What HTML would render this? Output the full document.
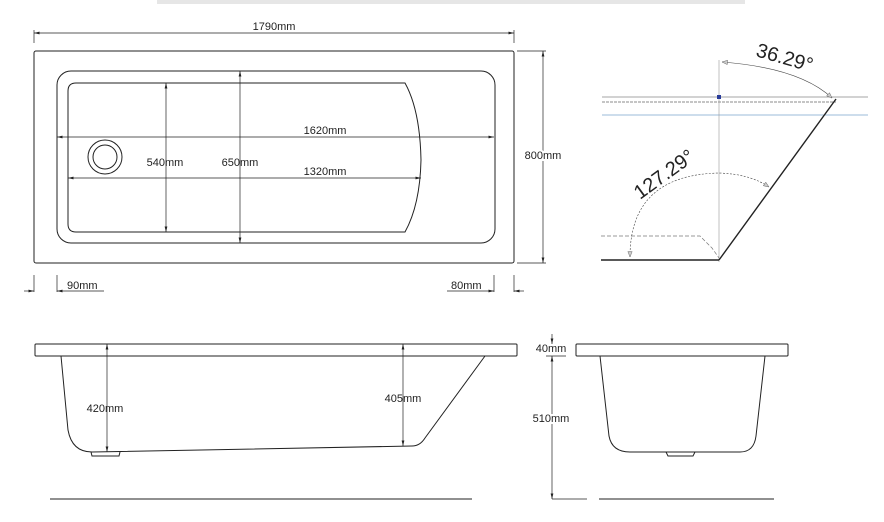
<!DOCTYPE html>
<html><head><meta charset="utf-8"><style>
html,body{margin:0;padding:0;background:#fff}
svg{display:block}
text{font-family:"Liberation Sans",sans-serif;font-size:11px;fill:#222}
</style></head><body>
<svg width="884" height="522" viewBox="0 0 884 522" xmlns="http://www.w3.org/2000/svg">
<defs>
<marker id="a" viewBox="0 0 10 10" refX="10" refY="5" markerWidth="8" markerHeight="8" orient="auto-start-reverse"><path d="M0,2.5 L10,5 L0,7.5 z" fill="#222"/></marker>
<marker id="g" viewBox="0 0 10 10" refX="10" refY="5" markerWidth="14" markerHeight="9" orient="auto-start-reverse"><path d="M0,1 L10,5 L0,9 z" fill="#ccc" stroke="#555" stroke-width="0.8"/></marker>
</defs>
<rect x="157" y="0" width="588" height="4" fill="#e6e6e6"/>
<g fill="none" stroke="#222" stroke-width="1">
<!-- top view -->
<rect x="34" y="51" width="480" height="212" rx="2"/>
<rect x="57" y="71" width="438" height="172" rx="14"/>
<path d="M76,83 L405,83 Q420,110 421,160 Q420,205 405,232 L76,232 Q68,232 68,224 L68,91 Q68,83 76,83 Z"/>
<circle cx="105" cy="157" r="17"/><circle cx="105" cy="157" r="12"/>
<line x1="34" y1="43" x2="34" y2="30" stroke-width="0.7"/><line x1="514" y1="43" x2="514" y2="30" stroke-width="0.7"/>
<line x1="34" y1="33" x2="514" y2="33" stroke-width="0.7" marker-start="url(#a)" marker-end="url(#a)"/>
<line x1="517" y1="51" x2="546" y2="51" stroke-width="0.7"/><line x1="517" y1="263" x2="546" y2="263" stroke-width="0.7"/>
<line x1="543" y1="51" x2="543" y2="263" stroke-width="0.7" marker-start="url(#a)" marker-end="url(#a)"/>
<line x1="57" y1="137" x2="494" y2="137" stroke-width="0.7" marker-start="url(#a)" marker-end="url(#a)"/>
<line x1="68" y1="178" x2="421" y2="178" stroke-width="0.7" marker-start="url(#a)" marker-end="url(#a)"/>
<line x1="166" y1="83" x2="166" y2="232" stroke-width="0.7" marker-start="url(#a)" marker-end="url(#a)"/>
<line x1="240" y1="71" x2="240" y2="243" stroke-width="0.7" marker-start="url(#a)" marker-end="url(#a)"/>
<line x1="34" y1="275" x2="34" y2="292" stroke-width="0.7"/><line x1="57" y1="275" x2="57" y2="292" stroke-width="0.7"/>
<line x1="24" y1="291" x2="34" y2="291" stroke-width="0.7" marker-end="url(#a)"/>
<line x1="104" y1="291" x2="57" y2="291" stroke-width="0.7" marker-end="url(#a)"/>
<line x1="494" y1="275" x2="494" y2="292" stroke-width="0.7"/><line x1="514" y1="275" x2="514" y2="292" stroke-width="0.7"/>
<line x1="447" y1="291" x2="494" y2="291" stroke-width="0.7" marker-end="url(#a)"/>
<line x1="524" y1="291" x2="514" y2="291" stroke-width="0.7" marker-end="url(#a)"/>
<!-- angle view -->
<line x1="602" y1="97" x2="868" y2="97" stroke="#888" stroke-width="0.8"/>
<line x1="602" y1="102" x2="836" y2="102" stroke="#666" stroke-width="0.8" stroke-dasharray="3,1"/>
<line x1="602" y1="115" x2="868" y2="115" stroke="#7aa4cc" stroke-width="0.8"/>
<line x1="719" y1="60" x2="719" y2="262" stroke="#999" stroke-width="0.6"/>
<line x1="836" y1="99" x2="719" y2="260" stroke-width="1.4"/>
<line x1="601" y1="260" x2="719" y2="260" stroke-width="1.4"/>
<path d="M601,236 L700,236 L712,248 L719,258" stroke="#777" stroke-width="0.7" stroke-dasharray="4,2"/>
<path d="M722,62 Q800,68 832,98" stroke="#444" stroke-width="0.6" marker-start="url(#g)" marker-end="url(#g)"/>
<path d="M630,257 Q630,175 719,173 Q750,174 769,187" stroke="#444" stroke-width="0.6" stroke-dasharray="2,1.5" marker-start="url(#g)" marker-end="url(#g)"/>
<rect x="717" y="95" width="4" height="4" fill="#2a3d9a" stroke="none"/>
<!-- side view -->
<rect x="35" y="344" width="482" height="12" rx="1"/>
<path d="M61,356 L68,430 Q72,452 92,452 L412,446 Q420,446 425,438 L485,356"/>
<path d="M91,452 L92,456 L119,456 L120,452"/>
<line x1="107" y1="344" x2="107" y2="452" stroke-width="0.7" marker-start="url(#a)" marker-end="url(#a)"/>
<line x1="403" y1="344" x2="403" y2="446" stroke-width="0.7" marker-start="url(#a)" marker-end="url(#a)"/>
<line x1="50" y1="499" x2="472" y2="499"/>
<!-- end view -->
<rect x="576" y="344" width="212" height="12" rx="1"/>
<path d="M600,356 L609,436 Q612,452 630,452 L740,452 Q754,452 756,436 L765,356"/>
<path d="M666,452 L668,456 L693,456 L695,452"/>
<line x1="552" y1="334" x2="552" y2="344" stroke-width="0.7" marker-end="url(#a)"/>
<line x1="552" y1="356" x2="552" y2="499" stroke-width="0.7" marker-start="url(#a)" marker-end="url(#a)"/>
<line x1="546" y1="356" x2="566" y2="356" stroke-width="0.7"/>
<line x1="552" y1="499" x2="587" y2="499" stroke-width="0.7"/>
<line x1="599" y1="499" x2="774" y2="499"/>
</g>
<text x="274" y="30" text-anchor="middle">1790mm</text>
<text x="543" y="159" text-anchor="middle" style="fill:#222;stroke:#fff;stroke-width:4;paint-order:stroke">800mm</text>
<text x="325" y="134" text-anchor="middle">1620mm</text>
<text x="325" y="175" text-anchor="middle">1320mm</text>
<text x="165" y="166" text-anchor="middle">540mm</text>
<text x="240" y="166" text-anchor="middle">650mm</text>
<text x="67" y="289">90mm</text>
<text x="451" y="289">80mm</text>
<text x="105" y="412" text-anchor="middle">420mm</text>
<text x="403" y="402" text-anchor="middle">405mm</text>
<text x="551" y="352" text-anchor="middle">40mm</text>
<text x="551" y="422" text-anchor="middle" style="stroke:#fff;stroke-width:4;paint-order:stroke">510mm</text>
<text x="0" y="0" style="font-size:20px" transform="translate(755,56) rotate(16)">36.29°</text>
<text x="0" y="0" style="font-size:20px" transform="translate(640,200) rotate(-36)">127.29°</text>
</svg>
</body></html>
